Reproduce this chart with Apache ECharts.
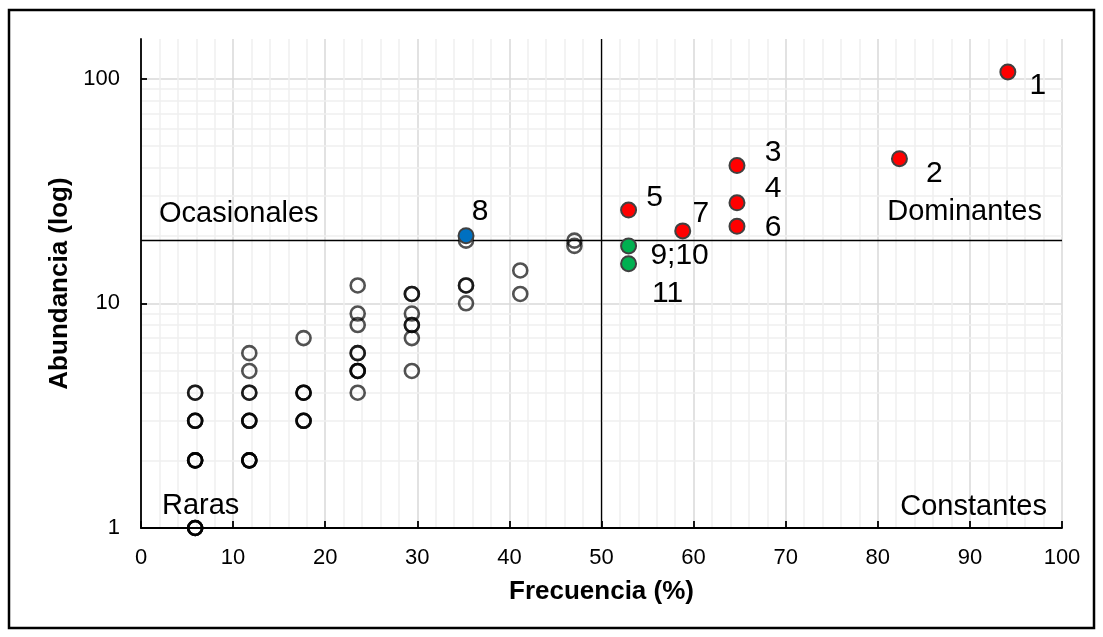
<!DOCTYPE html>
<html>
<head>
<meta charset="utf-8">
<script src="https://cdn.jsdelivr.net/npm/echarts@6/dist/echarts.min.js"></script>
<style>
  html, body { margin: 0; padding: 0; background: #fff; }
  #chart { width: 1103px; height: 637px; }
</style>
</head>
<body>
<div id="chart"></div>
<script>
// Unlabelled species: frequency (% of 17 samples), abundance, and how many species share the point
const otherFreq  = [5.88, 5.88, 5.88, 5.88, 11.76, 11.76, 11.76, 11.76, 11.76, 17.65, 17.65, 17.65,
                    23.53, 23.53, 23.53, 23.53, 23.53, 23.53, 29.41, 29.41, 29.41, 29.41, 29.41,
                    35.29, 35.29, 35.29, 41.18, 41.18, 47.06, 47.06];
const otherAbund = [4, 3, 2, 1, 6, 5, 4, 3, 2, 7, 4, 3,
                    12, 9, 8, 6, 5, 4, 11, 9, 8, 7, 5,
                    19, 12, 10, 14, 11, 19, 18];
const otherCount = [2, 3, 4, 4, 1, 1, 2, 3, 4, 1, 3, 3,
                    1, 1, 1, 2, 3, 1, 2, 1, 2, 1, 1,
                    1, 2, 1, 1, 1, 1, 1];

// Numbered species
const speciesLabel = ['1', '2', '3', '4', '5', '6', '7', '8', '9;10', '11'];
const speciesFreq  = [94.12, 82.35, 64.71, 64.71, 52.94, 64.71, 58.82, 35.29, 52.94, 52.94];
const speciesAbund = [107, 44, 41, 28, 26, 22, 21, 20, 18, 15];
const speciesGroup = ['Dominantes', 'Dominantes', 'Dominantes', 'Dominantes', 'Dominantes',
                      'Dominantes', 'Dominantes', 'Ocasionales', 'Constantes', 'Constantes'];

// Olmstead–Tukey quadrant limits
const freqLimit = 50;
const abundLimit = 19;

const quadrantNames = ['Ocasionales', 'Dominantes', 'Raras', 'Constantes'];
const abundanceTicks = [1, 10, 100];

const FONT = "'Liberation Sans', Arial, sans-serif";

// label placement around each numbered point
const labelOffset = {
  '1': [30, 14], '2': [35, 15], '3': [36, -13], '4': [36, -14], '5': [26, -12],
  '6': [36, 1], '7': [18, -17], '8': [14, -24], '9;10': [51, 10], '11': [39, 30]
};
const groupColor = { Dominantes: '#ff0000', Ocasionales: '#0070c0', Constantes: '#00b050' };

// expand shared points so overlapping circles darken
const otherData = [];
otherFreq.forEach((f, i) => {
  for (let k = 0; k < otherCount[i]; k++) otherData.push([f, otherAbund[i]]);
});

const plainLabel = { color: '#000', fontFamily: FONT, textBorderWidth: 0, textShadowBlur: 0, opacity: 1 };

function groupSeries(group) {
  const data = [];
  speciesLabel.forEach((lab, i) => {
    if (speciesGroup[i] !== group) return;
    data.push({
      name: lab,
      value: [speciesFreq[i], speciesAbund[i]],
      label: { offset: labelOffset[lab] }
    });
  });
  return {
    type: 'scatter', name: group, z: 4, silent: true,
    symbol: 'circle', symbolSize: 15,
    itemStyle: { color: groupColor[group], borderColor: '#404040', borderWidth: 2, opacity: 1 },
    label: Object.assign({
      show: true, position: 'inside', align: 'center', verticalAlign: 'middle',
      formatter: p => p.name, fontSize: 30
    }, plainLabel),
    data
  };
}

// minor horizontal grid lines of the log axis (2..9 per decade)
const minorAbund = [];
[1, 10].forEach(d => { for (let k = 2; k <= 9; k++) minorAbund.push(k * d); });

// quadrant names anchored to the corners of each quadrant
const quadAnchor = {
  Ocasionales: { value: [0, abundLimit], align: 'left', offset: [18, -27] },
  Dominantes: { value: [100, abundLimit], align: 'right', offset: [-20, -29] },
  Raras: { value: [0, 1], align: 'left', offset: [21, -22] },
  Constantes: { value: [100, 1], align: 'right', offset: [-15, -21] }
};

const chart = echarts.init(document.getElementById('chart'), null, { renderer: 'canvas' });
chart.setOption({
  animation: false,
  backgroundColor: '#fff',
  textStyle: { fontFamily: FONT },
  grid: { left: 141, right: 41, top: 39, bottom: 109, containLabel: false },
  xAxis: {
    type: 'value', min: 0, max: 100, interval: 10,
    name: 'Frecuencia (%)', nameLocation: 'middle', nameGap: 51,
    nameTextStyle: { fontWeight: 'bold', fontSize: 26, color: '#000', fontFamily: FONT },
    axisLine: { onZero: false, lineStyle: { color: '#000', width: 1.8 } },
    axisTick: { show: true, inside: true, length: 7, lineStyle: { color: '#000', width: 1.8 } },
    axisLabel: { color: '#000', fontSize: 22, fontFamily: FONT, margin: 19 },
    splitLine: { show: true, lineStyle: { color: '#d9d9d9', width: 1.5 } },
    minorTick: { show: false, splitNumber: 5 },
    minorSplitLine: { show: true, lineStyle: { color: '#efefef', width: 1.5 } }
  },
  yAxis: {
    type: 'log', logBase: 10, min: 1, max: 150,
    name: 'Abundancia (log)', nameLocation: 'middle', nameGap: 68, nameRotate: 90,
    nameTextStyle: { fontWeight: 'bold', fontSize: 26, color: '#000', fontFamily: FONT },
    axisLine: { onZero: false, lineStyle: { color: '#000', width: 1.8 } },
    axisTick: { show: true, inside: true, length: 6, customValues: abundanceTicks,
                lineStyle: { color: '#000', width: 1.8 } },
    // decade labels are drawn by the helper series below, right-aligned to the axis
    axisLabel: { show: false },
    splitLine: { show: true, lineStyle: { color: '#d9d9d9', width: 1.5 } }
  },
  series: [
    {
      // log-axis minor grid
      type: 'scatter', z: 0, silent: true, data: [],
      markLine: {
        z: 0, silent: true, symbol: ['none', 'none'], label: { show: false }, animation: false,
        lineStyle: { color: '#efefef', width: 1.5, type: 'solid' },
        data: minorAbund.map(v => ({ yAxis: v }))
      }
    },
    {
      // quadrant limits
      type: 'scatter', z: 1, silent: true, data: [],
      markLine: {
        z: 1, silent: true, symbol: ['none', 'none'], label: { show: false }, animation: false,
        lineStyle: { color: '#000', width: 1.3, type: 'solid' },
        data: [{ xAxis: freqLimit }, { yAxis: abundLimit }]
      }
    },
    {
      // y-axis decade labels
      type: 'scatter', z: 2, silent: true, symbolSize: 0, clip: false,
      label: Object.assign({ show: true, position: 'inside', align: 'right', verticalAlign: 'middle',
               offset: [-21, 0], fontSize: 22, formatter: p => String(p.value[1]) }, plainLabel),
      data: abundanceTicks.map(v => [0, v])
    },
    {
      // quadrant names
      type: 'scatter', z: 2, silent: true, symbolSize: 0,
      label: Object.assign({ show: true, position: 'inside', verticalAlign: 'middle',
               fontSize: 29, formatter: p => p.name }, plainLabel),
      data: quadrantNames.map(n => ({
        name: n, value: quadAnchor[n].value,
        label: { align: quadAnchor[n].align, offset: quadAnchor[n].offset }
      }))
    },
    {
      type: 'scatter', name: 'otras', z: 3, silent: true,
      symbol: 'circle', symbolSize: 14,
      itemStyle: { color: 'rgba(0,0,0,0)', borderColor: 'rgba(0,0,0,0.68)', borderWidth: 2.6, opacity: 1 },
      data: otherData
    },
    groupSeries('Ocasionales'),
    groupSeries('Constantes'),
    groupSeries('Dominantes')
  ],
  graphic: [{
    type: 'rect', silent: true, z: 100,
    shape: { x: 9, y: 10, width: 1085, height: 618 },
    style: { fill: 'none', stroke: '#000', lineWidth: 2.5 }
  }]
});
</script>
</body>
</html>
